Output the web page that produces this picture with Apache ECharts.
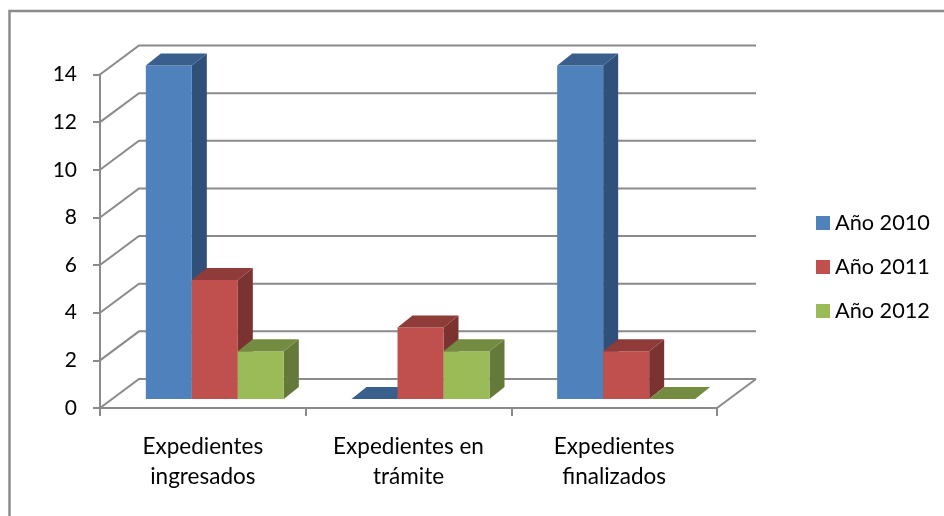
<!DOCTYPE html>
<html><head><meta charset="utf-8">
<style>html,body{margin:0;padding:0;background:#fff}#c{width:944px;height:516px}</style>
<script src="https://cdn.jsdelivr.net/npm/echarts@6/dist/echarts.min.js"></script>
</head><body><div id="c"></div>
<script>
const categories = ['Expedientes\ningresados', 'Expedientes en\ntrámite', 'Expedientes\nfinalizados'];
const seriesNames = ['Año 2010', 'Año 2011', 'Año 2012'];
const values2010 = [14, 0, 14];
const values2011 = [5, 3, 2];
const values2012 = [2, 2, 0];
const yTicks = [0, 2, 4, 6, 8, 10, 12, 14];

const FONT = 'Lato';
const AXIS = '#8a8a8a';
const WALL = { dx: 39, dy: -29 };
const PLANE = { dx: 12, dy: -9 };
const DEPTH = { dx: 15, dy: -12 };
const BAR_FRACTION = 46 / 205.67;
const palette = [
  { front: '#4F81BD', top: '#3A5F8C', side: '#305079' },
  { front: '#C0504D', top: '#8E3B39', side: '#7B3331' },
  { front: '#9BBB59', top: '#748C42', side: '#657A3A' }
];

function renderWall(params, api) {
  const cs = params.coordSys;
  const y = api.coord([0, api.value(1)])[1];
  const x0 = cs.x, x1 = cs.x + cs.width;
  const style = { stroke: AXIS, lineWidth: 2, fill: null };
  const children = [{
    type: 'polyline',
    shape: { points: [[x0, y], [x0 + WALL.dx, y + WALL.dy], [x1 + WALL.dx, y + WALL.dy]] },
    style
  }];
  if (api.value(1) === 0) {
    children.push({
      type: 'line',
      shape: { x1: x1, y1: y, x2: x1 + WALL.dx, y2: y + WALL.dy },
      style
    });
  }
  return { type: 'group', children };
}

function barRenderer(index) {
  return function (params, api) {
    const c = api.coord([api.value(0), api.value(1)]);
    const base = api.coord([api.value(0), 0]);
    const w = api.size([1, 0])[0] * BAR_FRACTION;
    const xl = c[0] + (index - 1.5) * w + PLANE.dx;
    const xr = xl + w;
    const yt = c[1] + PLANE.dy;
    const yb = base[1] + PLANE.dy;
    const col = palette[index];
    const kids = [];
    if (yb - yt > 0.5) {
      kids.push({
        type: 'polygon',
        shape: { points: [[xr, yt], [xr + DEPTH.dx, yt + DEPTH.dy], [xr + DEPTH.dx, yb + DEPTH.dy], [xr, yb]] },
        style: { fill: col.side }
      });
      kids.push({
        type: 'rect',
        shape: { x: xl, y: yt, width: w, height: yb - yt },
        style: { fill: col.front }
      });
    }
    kids.push({
      type: 'polygon',
      shape: { points: [[xl, yt], [xl + DEPTH.dx, yt + DEPTH.dy], [xr + DEPTH.dx, yt + DEPTH.dy], [xr, yt]] },
      style: { fill: col.top }
    });
    return { type: 'group', children: kids };
  };
}

const allValues = [values2010, values2011, values2012];
const chart = echarts.init(document.getElementById('c'), null, { renderer: 'canvas' });
chart.setOption({
  animation: false,
  backgroundColor: '#fff',
  graphic: [{
    type: 'polyline',
    shape: { points: [[9.5, 516], [9.5, 11], [944, 11]] },
    style: { stroke: '#8c8c8c', lineWidth: 2.5, fill: null },
    silent: true
  }],
  legend: {
    orient: 'vertical',
    left: 811,
    top: 205,
    itemWidth: 14,
    itemHeight: 14,
    itemGap: 18,
    icon: 'rect',
    data: seriesNames,
    textStyle: { fontFamily: FONT, fontSize: 21.7, color: '#000', padding: [0, 0, 0, 0], lineHeight: 26 }
  },
  grid: { left: 100, right: 227, top: 74.5, bottom: 108 },
  xAxis: {
    type: 'category',
    data: categories,
    boundaryGap: true,
    axisLine: { lineStyle: { color: AXIS, width: 2 } },
    axisTick: { show: true, length: 8, alignWithLabel: false, lineStyle: { color: AXIS, width: 2 } },
    axisLabel: { interval: 0, fontFamily: FONT, fontSize: 22.5, color: '#000', lineHeight: 30, margin: 24 }
  },
  yAxis: {
    type: 'value',
    min: 0,
    max: 14,
    interval: 2,
    axisLine: { show: true, lineStyle: { color: AXIS, width: 2 } },
    axisTick: { show: true, length: 7, lineStyle: { color: AXIS, width: 2 } },
    axisLabel: { fontFamily: FONT, fontSize: 21, color: '#000', margin: 23 },
    splitLine: { show: false }
  },
  series: [
    {
      name: 'wall', type: 'custom', silent: true, z: 1,
      data: yTicks.map(v => [0, v]),
      encode: { x: 0, y: 1 },
      renderItem: renderWall
    }
  ].concat(seriesNames.map((name, i) => ({
    name,
    type: 'custom',
    z: 2 + i,
    itemStyle: { color: palette[i].front },
    data: allValues[i].map((v, k) => [k, v]),
    encode: { x: 0, y: 1 },
    renderItem: barRenderer(i)
  })))
});
</script></body></html>
